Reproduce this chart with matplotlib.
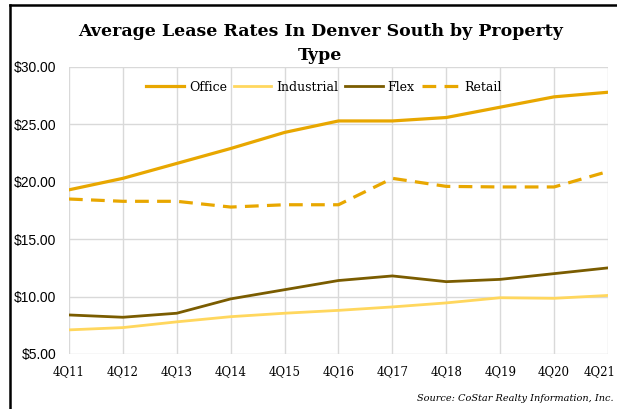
import matplotlib
matplotlib.use('Agg')
import matplotlib.pyplot as plt
from matplotlib.lines import Line2D
from matplotlib.transforms import ScaledTranslation

quarters = ['4Q11', '4Q12', '4Q13', '4Q14', '4Q15', '4Q16', '4Q17', '4Q18', '4Q19', '4Q20', '4Q21']
office = [19.3, 20.3, 21.6, 22.9, 24.3, 25.3, 25.3, 25.6, 26.5, 27.4, 27.8]
industrial = [7.1, 7.3, 7.8, 8.25, 8.55, 8.8, 9.1, 9.45, 9.9, 9.85, 10.1]
flex = [8.4, 8.2, 8.55, 9.8, 10.6, 11.4, 11.8, 11.3, 11.5, 12.0, 12.5]
retail = [18.5, 18.3, 18.3, 17.8, 18.0, 18.0, 20.3, 19.6, 19.55, 19.55, 20.9]
yticks = [5, 10, 15, 20, 25, 30]

plt.rcParams['font.family'] = 'DejaVu Serif'

fig = plt.figure(figsize=(6.17, 4.09), dpi=100)
ax = fig.add_axes([0.1118, 0.1345, 0.8736, 0.7017])

x = range(len(quarters))
ax.plot(x, office, color='#E8A700', lw=2.3, label='Office', zorder=3)
ax.plot(x, industrial, color='#FFD75E', lw=2.0, label='Industrial', zorder=3)
ax.plot(x, flex, color='#7A5C00', lw=2.0, label='Flex', zorder=3)
ax.plot(x, retail, color='#E8A700', lw=2.3, ls=(0, (4.3, 2.6)), label='Retail', zorder=3)

ax.set_xlim(0, len(quarters) - 1)
ax.set_ylim(5, 30)
ax.set_xticks(list(x))
ax.set_xticklabels(quarters, fontsize=8.5)
ax.set_yticks(yticks)
ax.set_yticklabels(['$%.2f' % v for v in yticks], fontsize=10, family='Liberation Sans')
ax.grid(True, color='#D9D9D9', lw=1)
ax.set_axisbelow(True)
for s in ax.spines.values():
    s.set_visible(False)
ax.tick_params(length=0)
ax.tick_params(axis='x', pad=8)
ax.tick_params(axis='y', pad=9)

# last label is nudged left so it stays inside the picture, as in the original
last = ax.get_xticklabels()[-1]
last.set_transform(last.get_transform() + ScaledTranslation(-8 / 100, 0, fig.dpi_scale_trans))

ax.legend(loc='center', bbox_to_anchor=(0.473, 0.93), ncol=4, frameon=False,
          fontsize=9, handlelength=3.0, columnspacing=0.55, handletextpad=0.4)

fig.text(0.519, 0.894, 'Average Lease Rates In Denver South by Property\nType',
         ha='center', va='center', fontsize=12.5, fontweight='bold', linespacing=1.5)
fig.text(0.995, 0.025, 'Source: CoStar Realty Information, Inc.', ha='right', va='center',
         fontsize=7, style='italic')

# partial frame around the chart
fig.add_artist(Line2D([0.0155, 0.0155], [0, 0.988], color='black', lw=1.8, transform=fig.transFigure))
fig.add_artist(Line2D([0.0155, 1], [0.988, 0.988], color='black', lw=1.8, transform=fig.transFigure))

fig.savefig('out.png', dpi=100)
